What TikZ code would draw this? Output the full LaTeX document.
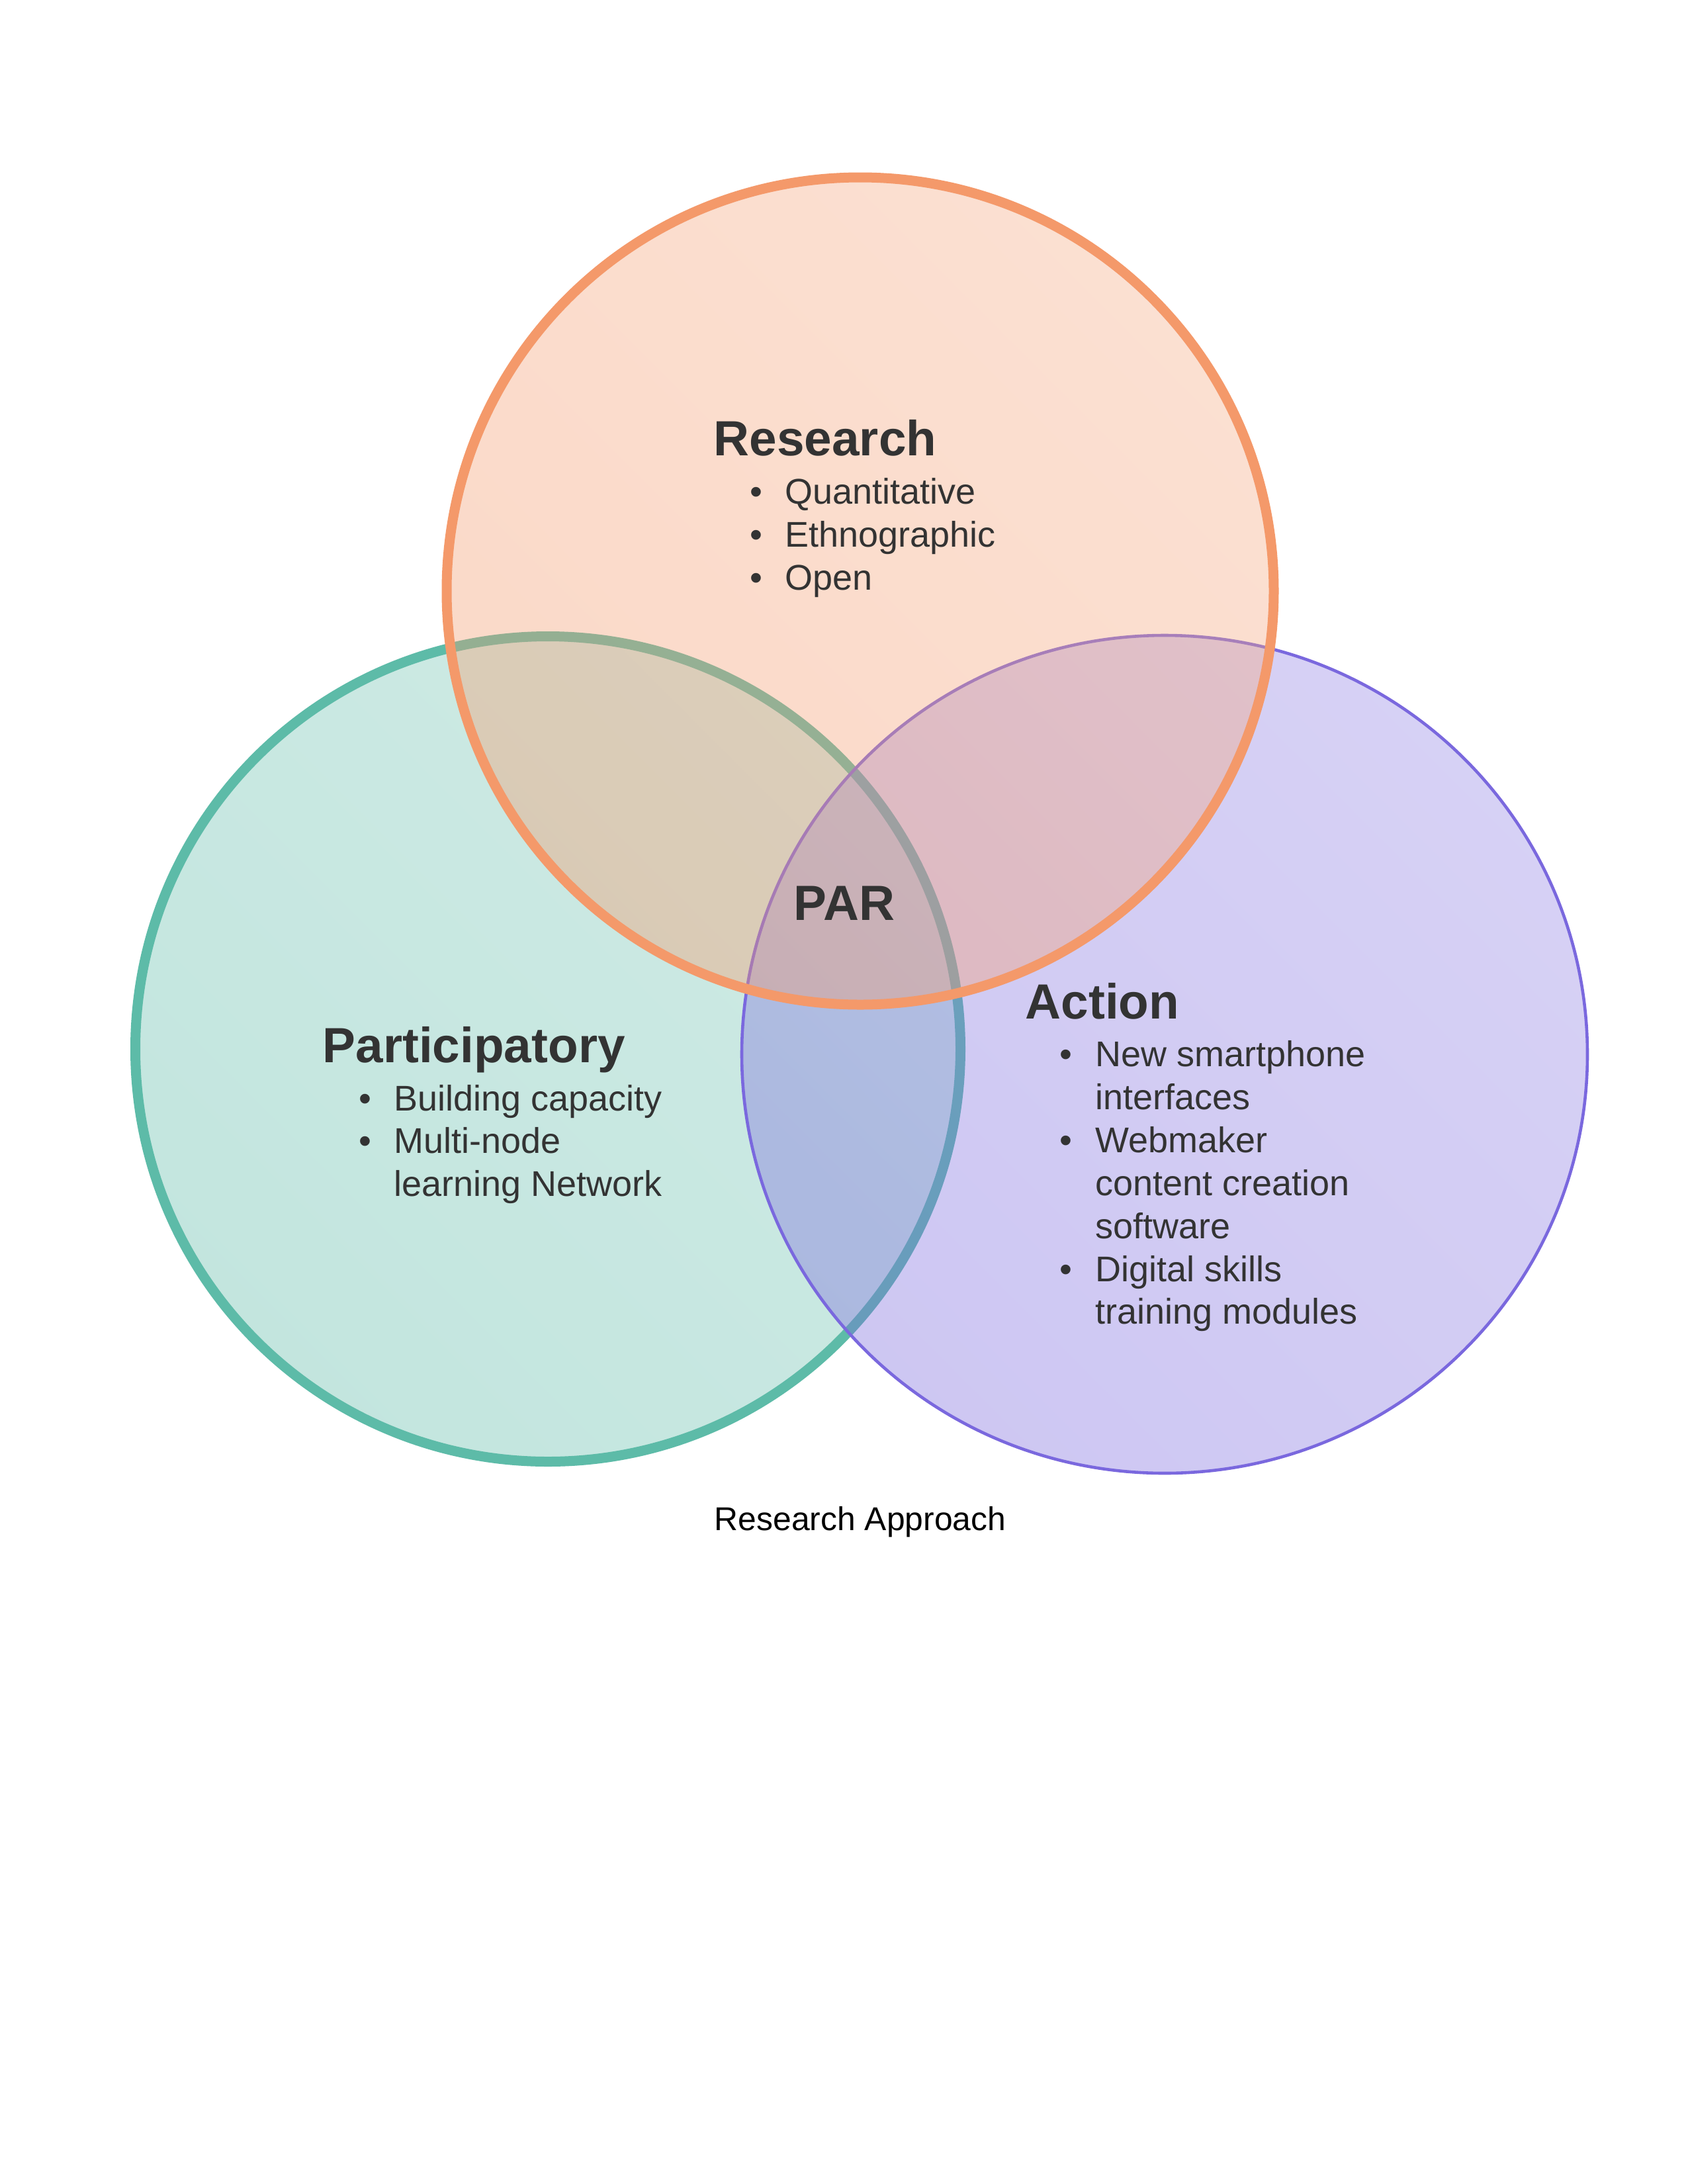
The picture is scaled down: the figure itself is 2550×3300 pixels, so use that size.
\documentclass[tikz,border=0pt]{standalone}
\usepackage{fontspec}
\setmainfont{Liberation Sans}
\definecolor{orangeS}{HTML}{F4996A}
\definecolor{greenS}{HTML}{5DBBA8}
\definecolor{purpleS}{HTML}{7A68DE}
\definecolor{txt}{HTML}{333333}
\begin{document}
\begin{tikzpicture}[x=0.24bp,y=-0.24bp,
  head/.style={anchor=base west, inner sep=0pt, font=\fontsize{18}{21.6}\selectfont\bfseries, text=txt},
  itemtext/.style={anchor=base west, inner sep=0pt, font=\fontsize{13}{15.6}\selectfont, text=txt},
  bul/.style={anchor=base, inner sep=0pt, font=\fontsize{13}{15.6}\selectfont, text=txt},
  vfill/.style={fill opacity=0.37, left color=#1!82!white, right color=#1, shading angle=-45},
  caption/.style={anchor=base, inner sep=0pt, font=\fontsize{12}{14.4}\selectfont, text=black}]
\useasboundingbox[fill=white] (0,0) rectangle (2550,3300);
\coordinate (cG) at (828,1585);
\coordinate (cP) at (1760,1593);
\coordinate (cO) at (1300,893);
% circles: green, purple, orange (on top)
\path[vfill=greenS] (cG) circle[radius=623.5];
\draw[line width=3.6bp, draw=greenS] (cG) circle[radius=623.5];
\path[vfill=purpleS] (cP) ellipse[x radius=639, y radius=633];
\draw[line width=1.1bp, draw=purpleS] (cP) ellipse[x radius=639, y radius=633];
\path[vfill=orangeS] (cO) circle[radius=625];
\draw[line width=3.6bp, draw=orangeS] (cO) circle[radius=625];
% Research
\node[head] (rh) at (1078,688) {Research};
\node[bul] (rb1) at (1143,761) {•};
\node[itemtext] (r1) at (1186,761) {Quantitative};
\node[bul] (rb2) at (1143,826) {•};
\node[itemtext] (r2) at (1186,826) {Ethnographic};
\node[bul] (rb3) at (1143,891) {•};
\node[itemtext] (r3) at (1186,891) {Open};
% Participatory
\node[head] (ph) at (487,1605) {Participatory};
\node[bul] (pb1) at (552,1678) {•};
\node[itemtext] (p1) at (595,1678) {Building capacity};
\node[bul] (pb2) at (552,1742) {•};
\node[itemtext] (p2) at (595,1742) {Multi-node};
\node[itemtext] (p3) at (595,1807) {learning Network};
% Action
\node[head] (ah) at (1549,1539) {Action};
\node[bul] (ab1) at (1611,1611) {•};
\node[itemtext] (a1) at (1655,1611) {New smartphone};
\node[itemtext] (a2) at (1655,1676) {interfaces};
\node[bul] (ab2) at (1611,1741) {•};
\node[itemtext] (a3) at (1655,1741) {Webmaker};
\node[itemtext] (a4) at (1655,1806) {content creation};
\node[itemtext] (a5) at (1655,1871) {software};
\node[bul] (ab3) at (1611,1936) {•};
\node[itemtext] (a6) at (1655,1936) {Digital skills};
\node[itemtext] (a7) at (1655,2000) {training modules};
% centre
\node[head, anchor=base] (par) at (1276,1390) {PAR};
% caption
\node[caption] (cap) at (1300,2312) {Research Approach};
\end{tikzpicture}
\end{document}
